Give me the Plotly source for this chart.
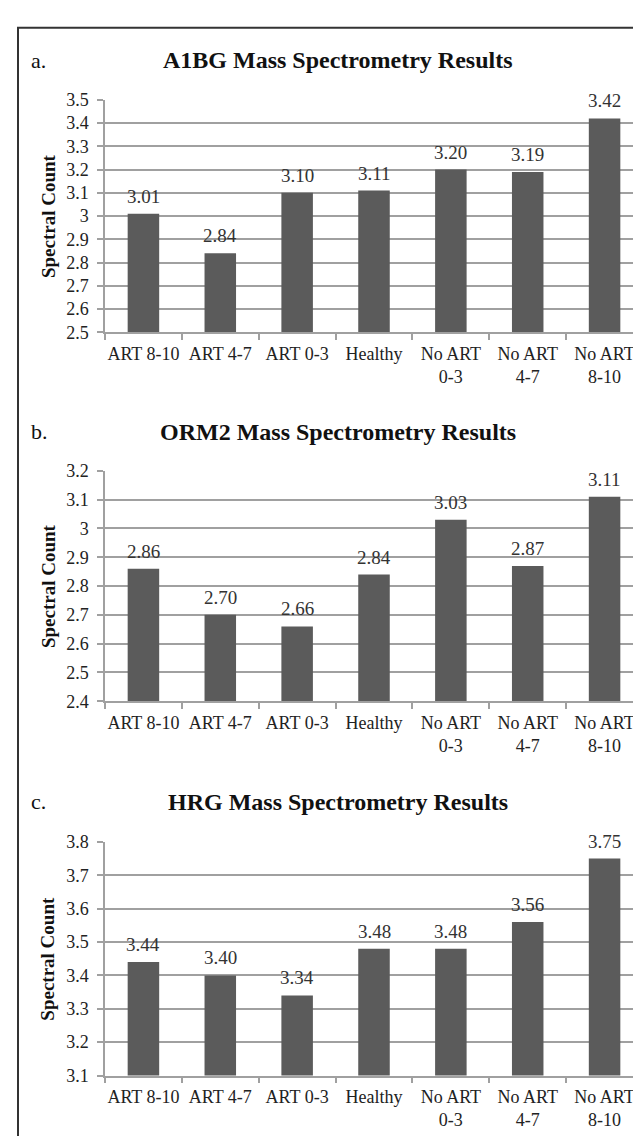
import plotly.graph_objects as go

categories = ["ART 8-10", "ART 4-7", "ART 0-3", "Healthy", "No ART<br>0-3", "No ART<br>4-7", "No ART<br>8-10"]
a_values = [3.01, 2.84, 3.10, 3.11, 3.20, 3.19, 3.42]
b_values = [2.86, 2.70, 2.66, 2.84, 3.03, 2.87, 3.11]
c_values = [3.44, 3.40, 3.34, 3.48, 3.48, 3.56, 3.75]
titles = ["A1BG Mass Spectrometry Results", "ORM2 Mass Spectrometry Results", "HRG Mass Spectrometry Results"]
panel_letters = ["a.", "b.", "c."]
y_ranges = [[2.5, 3.5], [2.4, 3.2], [3.1, 3.8]]
y_title = "Spectral Count"

W, H = 641, 1136
FONT = "Liberation Serif"
BAR = "#5b5b5b"
GRID = "#a0a0a0"

def fx(p):
    return p / W

def fy(p):
    return 1 - p / H

plot_px = [(83.3, 320.0), (461.0, 695.5), (838.6, 1076.5)]
title_px = [43, 421, 798]
x_dom = [fx(97), fx(635)]

fig = go.Figure()
annotations = []
series = [a_values, b_values, c_values]

for i in range(3):
    sfx = "" if i == 0 else str(i + 1)
    xa, ya = "x" + sfx, "y" + sfx
    vals = series[i]
    fig.add_trace(go.Bar(x=categories, y=vals, marker_color=BAR, marker_line_width=0,
                         width=0.41, xaxis=xa, yaxis=ya, showlegend=False, hoverinfo="skip"))
    top, bot = plot_px[i]
    fig.layout["xaxis" + sfx] = dict(
        domain=x_dom, anchor=ya, type="category", showgrid=False,
        showline=True, linecolor=GRID, linewidth=1.5,
        ticks="outside", tickson="boundaries", ticklen=6, tickcolor=GRID, tickwidth=1.5,
        tickangle=0, ticklabelstandoff=4,
        tickfont=dict(family=FONT, size=18, color="#222222"), fixedrange=True,
    )
    fig.layout["yaxis" + sfx] = dict(
        domain=[fy(bot), fy(top)], anchor=xa, range=y_ranges[i], dtick=0.1, tick0=0,
        showgrid=True, gridcolor=GRID, gridwidth=1.5, zeroline=False,
        showline=True, linecolor=GRID, linewidth=1.5,
        ticks="outside", ticklen=6, tickcolor=GRID, tickwidth=1.5, ticklabelstandoff=5,
        tickfont=dict(family=FONT, size=18, color="#222222"), fixedrange=True,
    )
    for c, v in zip(categories, vals):
        annotations.append(dict(x=c, y=v, xref=xa, yref=ya, text=f"{v:.2f}", showarrow=False,
                                yanchor="bottom", yshift=5,
                                font=dict(family=FONT, size=19, color="#333333")))
    annotations.append(dict(x=fx(330), y=fy(title_px[i]), xref="paper", yref="paper",
                            text="<b>" + titles[i] + "</b>", showarrow=False,
                            xanchor="center", yanchor="middle",
                            font=dict(family=FONT, size=24, color="#111111")))
    annotations.append(dict(x=fx(21), y=fy(title_px[i]), xref="paper", yref="paper",
                            text=panel_letters[i], showarrow=False,
                            xanchor="left", yanchor="middle",
                            font=dict(family=FONT, size=22, color="#111111")))
    annotations.append(dict(x=fx(40), y=fy((top + bot) / 2), xref="paper", yref="paper",
                            text="<b>" + y_title + "</b>", showarrow=False, textangle=-90,
                            xanchor="center", yanchor="middle",
                            font=dict(family=FONT, size=19, color="#111111")))

fig.update_layout(
    width=W, height=H, margin=dict(l=0, r=0, t=0, b=0),
    paper_bgcolor="white", plot_bgcolor="white",
    annotations=annotations, bargap=0.59,
    shapes=[dict(type="rect", xref="paper", yref="paper", x0=fx(10), x1=1.2, y0=-0.2, y1=fy(10),
                 line=dict(color="#333333", width=2), fillcolor="rgba(0,0,0,0)", layer="below")],
)
fig.update_traces(cliponaxis=True)

fig.write_html("out.html")
